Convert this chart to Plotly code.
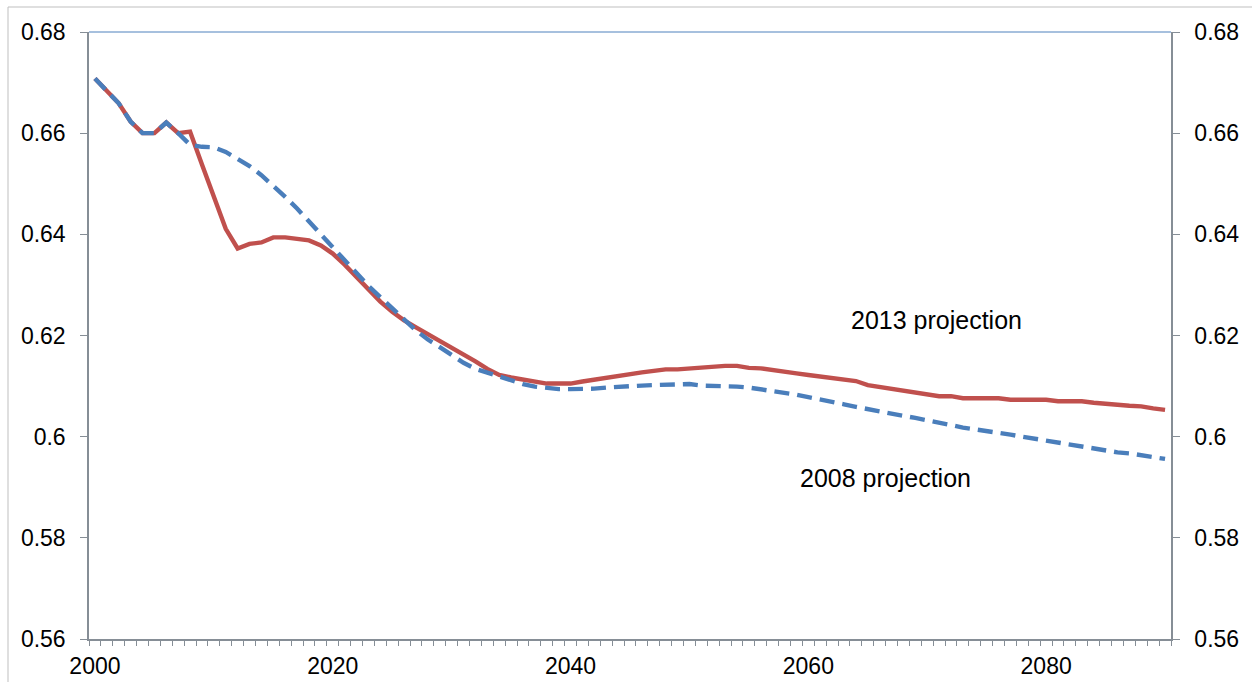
import plotly.graph_objects as go

years = list(range(2000, 2091))

proj_2013 = [
    0.6708, 0.6683, 0.6659, 0.6623, 0.6600, 0.6600, 0.6621, 0.6600, 0.6603, 0.6538,
    0.6473, 0.6411, 0.6372, 0.6381, 0.6384, 0.6394, 0.6394, 0.6392, 0.6388, 0.6378,
    0.6362, 0.6340, 0.6316, 0.6290, 0.6267, 0.6247, 0.6230, 0.6216, 0.6203, 0.6190,
    0.6175, 0.6163, 0.6149, 0.6134, 0.6122, 0.6117, 0.6113, 0.6107, 0.6105, 0.6105,
    0.6105, 0.6109, 0.6113, 0.6117, 0.6121, 0.6124, 0.6127, 0.6130, 0.6133, 0.6133,
    0.6135, 0.6136, 0.6140, 0.6140, 0.6140, 0.6136, 0.6135, 0.6131, 0.6128, 0.6125,
    0.6122, 0.6119, 0.6116, 0.6113, 0.6110, 0.6102, 0.6098, 0.6094, 0.6091, 0.6087,
    0.6083, 0.6080, 0.6080, 0.6076, 0.6076, 0.6076, 0.6076, 0.6073, 0.6073, 0.6073,
    0.6073, 0.6070, 0.6070, 0.6070, 0.6067, 0.6066, 0.6063, 0.6061, 0.6060, 0.6056,
    0.6053,
]

proj_2008 = [
    0.6708, 0.6683, 0.6659, 0.6623, 0.6600, 0.6600, 0.6621, 0.6600, 0.6577, 0.6573,
    0.6572, 0.6563, 0.6550, 0.6535, 0.6517, 0.6496, 0.6474, 0.6451, 0.6425, 0.6399,
    0.6373, 0.6349, 0.6324, 0.6298, 0.6276, 0.6255, 0.6232, 0.6210, 0.6192, 0.6177,
    0.6162, 0.6146, 0.6134, 0.6126, 0.6118, 0.6111, 0.6104, 0.6099, 0.6096, 0.6094,
    0.6094, 0.6094, 0.6095, 0.6097, 0.6099, 0.6100, 0.6101, 0.6102, 0.6103, 0.6105,
    0.6104, 0.6101, 0.6101, 0.6100, 0.6099, 0.6097, 0.6094, 0.6090, 0.6087, 0.6083,
    0.6078, 0.6074, 0.6069, 0.6064, 0.6059, 0.6054, 0.6049, 0.6045, 0.6041, 0.6037,
    0.6033, 0.6028, 0.6023, 0.6018, 0.6015, 0.6011, 0.6007, 0.6004, 0.6000, 0.5996,
    0.5993, 0.5989, 0.5985, 0.5981, 0.5976, 0.5972, 0.5969, 0.5967, 0.5963, 0.5959,
    0.5956,
]

x_tick_vals = [2000, 2020, 2040, 2060, 2080]
y_tick_vals = [0.56, 0.58, 0.60, 0.62, 0.64, 0.66, 0.68]
y_tick_text = ["0.56", "0.58", "0.6", "0.62", "0.64", "0.66", "0.68"]

label_2013 = "2013 projection"
label_2008 = "2008 projection"

RED = "#C0504D"
BLUE = "#4A7EBB"
AXIS = "#868E96"
FONT = "Liberation Sans, Arial, sans-serif"

fig = go.Figure()
fig.add_trace(go.Scatter(x=years, y=proj_2013, mode="lines", name=label_2013,
                         line=dict(color=RED, width=4.4)))
fig.add_trace(go.Scatter(x=years, y=proj_2008, mode="lines", name=label_2008,
                         yaxis="y2",
                         line=dict(color=BLUE, width=4.4, dash="15px,8px")))

fig.add_annotation(x=2070.8, y=0.6231, text=label_2013, showarrow=False,
                   font=dict(family=FONT, size=25, color="black"))
fig.add_annotation(x=2066.5, y=0.5918, text=label_2008, showarrow=False,
                   font=dict(family=FONT, size=25, color="black"))

# top border of the plot area (thin blue)
fig.add_shape(type="line", xref="paper", yref="paper", x0=0, x1=1, y0=1, y1=1,
              line=dict(color="#4F81BD", width=1))
# outer chart frame (left and top visible)
fig.add_shape(type="line", xref="paper", yref="paper", x0=-81/1082, x1=-81/1082,
              y0=-43/607, y1=25/607 + 1, line=dict(color="#BFBFBF", width=1))
fig.add_shape(type="line", xref="paper", yref="paper", x0=-81/1082, x1=1 + 90/1082,
              y0=1 + 25/607, y1=1 + 25/607, line=dict(color="#BFBFBF", width=1))

yaxis_common = dict(
    range=[0.56, 0.68],
    tickmode="array", tickvals=y_tick_vals, ticktext=y_tick_text,
    ticks="outside", ticklen=7, tickcolor=AXIS, tickwidth=1,
    ticklabelstandoff=10,
    showgrid=False, zeroline=False,
    showline=True, linecolor=AXIS, linewidth=1.5,
    tickfont=dict(family=FONT, size=23, color="black"),
)

fig.update_layout(
    width=1252, height=692,
    margin=dict(l=89, r=81, t=32, b=53),
    paper_bgcolor="white", plot_bgcolor="white",
    showlegend=False,
    font=dict(family=FONT, size=23, color="black"),
    xaxis=dict(
        range=[1999.5, 2090.5],
        tickmode="array", tickvals=x_tick_vals, ticktext=[str(v) for v in x_tick_vals],
        ticks="", showgrid=False, zeroline=False,
        ticklabelstandoff=6,
        showline=True, linecolor=AXIS, linewidth=1.5,
        minor=dict(ticks="outside", tick0=1999.5, dtick=1, ticklen=5,
                   tickcolor=AXIS, tickwidth=1, showgrid=False),
        tickfont=dict(family=FONT, size=23, color="black"),
    ),
    yaxis=yaxis_common,
    yaxis2=dict(overlaying="y", side="right", anchor="x", **yaxis_common),
)

fig.write_html("out.html", config={"displayModeBar": False},
               post_script="document.body.style.margin='0px';")
